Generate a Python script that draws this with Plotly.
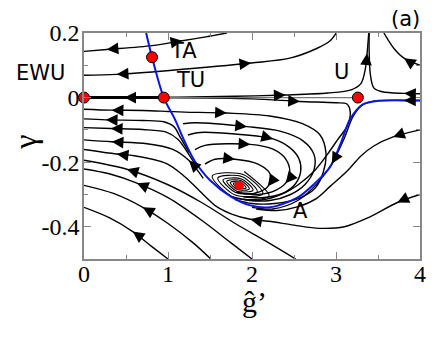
import math
import plotly.graph_objects as go

# ─── Data (ĝ', γ) ────────────────────────────────────────────────────────────

fixed_x = [0.0, 0.95, 0.81, 3.26]
fixed_y = [0.0, 0.0, 0.125, 0.0]
attractor_x = [1.845]
attractor_y = [-0.272]

blue_x = [0.74, 0.81, 0.95, 1.08, 1.20, 1.32, 1.50, 1.74, 1.98, 2.21, 2.54, 2.75, 2.93, 3.05, 3.17, 3.32, 3.50, 4.0]
blue_y = [0.2, 0.125, 0.0, -0.066, -0.137, -0.197, -0.256, -0.305, -0.334, -0.34, -0.31, -0.265, -0.215, -0.146, -0.066, -0.021, -0.010, -0.009]

top_arc = [(0, 0.143), (0.27, 0.149), (0.81, 0.161), (1.17, 0.176), (1.45, 0.188), (1.70, 0.2)]
second_arc = [(0, 0.069), (0.39, 0.072), (1.02, 0.084), (1.99, 0.107), (2.45, 0.122), (2.77, 0.152), (2.93, 0.176), (3.01, 0.203)]
axis_left = [(0, 0), (0.48, 0), (0.95, 0)]
sep_up = [(0.95, 0.0), (1.8, 0.004), (2.4, 0.008), (2.9, 0.014), (3.18, 0.024), (3.30, 0.045), (3.35, 0.09), (3.37, 0.137), (3.39, 0.2)]
sep_down = [(0.95, 0), (2.0, -0.004), (2.57, -0.012), (3.0, -0.016), (3.13, -0.02), (3.17, -0.045), (3.13, -0.09),
            (3.02, -0.13), (2.9, -0.175), (2.75, -0.225), (2.55, -0.27), (2.35, -0.3), (2.1, -0.318), (1.9, -0.315)]
mid_line = [(0.95, 0), (3.26, 0)]
right_up = [(4, 0.012), (3.81, 0.013), (3.55, 0.018), (3.45, 0.03), (3.41, 0.07), (3.395, 0.14), (3.395, 0.2)]
right_low = [(4, -0.009), (3.81, -0.009), (3.45, -0.011), (3.3, -0.025), (3.2, -0.06), (3.1, -0.125), (2.95, -0.205),
             (2.78, -0.265), (2.55, -0.318), (2.25, -0.345), (2.0, -0.34)]
top_right = [(4, 0.1), (3.81, 0.122), (3.69, 0.152), (3.57, 0.2)]
low_right1 = [(4, -0.10), (3.68, -0.122), (3.45, -0.15), (3.3, -0.18), (3.13, -0.228), (2.93, -0.275), (2.77, -0.312),
              (2.55, -0.338), (2.3, -0.35), (2.05, -0.345)]
low_right2 = [(4, -0.30), (3.73, -0.325), (3.4, -0.37), (3.1, -0.400), (2.8, -0.405), (2.5, -0.395), (2.2, -0.383),
              (1.98, -0.377), (1.75, -0.36), (1.58, -0.338), (1.38, -0.29), (1.2, -0.245), (0.99, -0.205),
              (0.6, -0.18), (0.39, -0.175), (0, -0.161)]
left_a = [(0, -0.194), (0.51, -0.222), (1.0, -0.27), (1.4, -0.325), (1.8, -0.39), (2.2, -0.45), (2.52, -0.5)]
left_b = [(0, -0.221), (0.3, -0.236), (0.63, -0.265), (1.0, -0.31), (1.4, -0.38), (1.75, -0.45), (2.0, -0.5)]
left_c = [(0, -0.272), (0.35, -0.297), (0.7, -0.34), (1.0, -0.39), (1.3, -0.45), (1.51, -0.5)]
left_d = [(0, -0.34), (0.3, -0.372), (0.58, -0.415), (0.8, -0.46), (1.0, -0.5)]
upper_1 = [(0, -0.036), (0.33, -0.039), (0.7, -0.040), (1.0, -0.043), (1.2, -0.045), (1.70, -0.048), (2.21, -0.057),
           (2.6, -0.081), (2.81, -0.116), (2.88, -0.17), (2.85, -0.23), (2.75, -0.281), (2.55, -0.313),
           (2.27, -0.328), (2.0, -0.328), (1.80, -0.316)]
upper_2 = [(0, -0.066), (0.26, -0.069), (0.7, -0.071), (0.95, -0.075), (1.07, -0.09), (1.15, -0.125), (1.25, -0.17)]
upper_3 = [(0, -0.093), (0.32, -0.096), (0.7, -0.099), (0.98, -0.107), (1.12, -0.13), (1.22, -0.165), (1.33, -0.21)]
upper_4 = [(0, -0.131), (0.33, -0.137), (0.75, -0.143), (1.05, -0.16), (1.25, -0.195), (1.42, -0.25)]
loop_2 = [(1.179, -0.081), (1.321, -0.078), (1.94, -0.090), (2.333, -0.104), (2.607, -0.134), (2.738, -0.176),
          (2.738, -0.224), (2.631, -0.269), (2.452, -0.301), (2.214, -0.319), (1.976, -0.319), (1.762, -0.307)]
loop_3 = [(1.238, -0.116), (1.381, -0.108), (1.8, -0.113), (2.25, -0.128), (2.45, -0.155), (2.56, -0.19),
          (2.58, -0.228), (2.52, -0.266), (2.369, -0.296), (2.119, -0.31), (1.893, -0.307)]
loop_4 = [(1.321, -0.161), (1.44, -0.148), (1.98, -0.145), (2.25, -0.16), (2.40, -0.19), (2.45, -0.23),
          (2.40, -0.265), (2.238, -0.292), (2.0, -0.300), (1.81, -0.293)]
loop_5 = [(1.44, -0.206), (1.56, -0.191), (1.798, -0.191), (2.071, -0.206), (2.214, -0.236), (2.19, -0.275),
          (2.036, -0.296), (1.857, -0.296)]
spiral = [(1.907, -0.229), (2.203, -0.305), (1.790, -0.310), (1.526, -0.243), (1.894, -0.238), (2.130, -0.298),
          (1.801, -0.302), (1.593, -0.249), (1.883, -0.245), (2.063, -0.292), (1.812, -0.295), (1.655, -0.255),
          (1.874, -0.252), (2.013, -0.287), (1.820, -0.290), (1.700, -0.259), (1.867, -0.257), (1.968, -0.283),
          (1.827, -0.285), (1.742, -0.263), (1.860, -0.261), (1.930, -0.280), (1.833, -0.281), (1.778, -0.266),
          (1.855, -0.265), (1.896, -0.277), (1.838, -0.277), (1.807, -0.269), (1.850, -0.268), (1.870, -0.274),
          (1.845, -0.272)]

# (line, point index, direction +1 toward next point / -1 toward previous)
arrows = [
    (top_arc, 1, -1), (top_arc, 3, 1),
    (second_arc, 1, -1), (second_arc, 3, 1),
    (axis_left, 1, -1),
    (sep_up, 2, 1), (sep_up, 7, 1),
    (sep_down, 2, 1),
    (right_up, 1, 1), (right_low, 1, 1), (right_low, 6, 1),
    (top_right, 1, 1), (low_right1, 1, 1),
    (low_right2, 1, 1), (low_right2, 7, 1), (low_right2, 14, 1),
    (left_a, 1, -1), (left_b, 2, -1), (left_c, 2, -1), (left_d, 2, -1),
    (upper_1, 1, -1), (upper_1, 5, 1),
    (upper_2, 1, -1), (upper_3, 1, -1), (upper_4, 1, -1), (upper_4, 4, -1),
    (loop_2, 2, 1), (loop_3, 3, 1), (loop_4, 2, 1), (loop_4, 6, 1),
    (loop_5, 2, 1), (loop_5, 5, 1),
]

# labels inside the axes (data coords) and outside (paper coords)
labels = ['TA', 'TU', 'U', 'A']
label_x = [1.19, 1.27, 3.07, 2.58]
label_y = [0.143, 0.054, 0.078, -0.350]
outer_labels = ['EWU', '(a)']
outer_x = [-0.128, 0.958]
outer_y = [0.825, 1.062]

X_RANGE = [0, 4]
Y_RANGE = [-0.5, 0.2]
W, H = 436, 345
# the page body adds an 8px offset, so the margins are shifted to compensate
M = dict(l=76, r=24, t=16, b=94)
SX = (W - M['l'] - M['r']) / (X_RANGE[1] - X_RANGE[0])
SY = (H - M['t'] - M['b']) / (Y_RANGE[1] - Y_RANGE[0])

fig = go.Figure()


def add_line(pts, color='black', width=1.4):
    fig.add_trace(go.Scatter(
        x=[p[0] for p in pts], y=[p[1] for p in pts], mode='lines',
        line=dict(color=color, width=width, shape='spline', smoothing=0.9),
        hoverinfo='skip', showlegend=False,
    ))


for line in [top_arc, second_arc, sep_up, sep_down, right_up, right_low, top_right,
             low_right1, low_right2, left_a, left_b, left_c, left_d,
             upper_1, upper_2, upper_3, upper_4, loop_2, loop_3, loop_4, loop_5]:
    add_line(line)
add_line(spiral, width=1.1)
add_line(mid_line, color='#777777', width=1.2)
add_line(axis_left, width=3)

fig.add_trace(go.Scatter(
    x=blue_x, y=blue_y, mode='lines',
    line=dict(color='#0a14e6', width=2, shape='spline', smoothing=0.9),
    hoverinfo='skip', showlegend=False,
))

fig.add_trace(go.Scatter(
    x=fixed_x, y=fixed_y, mode='markers', cliponaxis=False,
    marker=dict(color='#ff0000', size=11, line=dict(color='black', width=1)),
    hoverinfo='skip', showlegend=False,
))
fig.add_trace(go.Scatter(
    x=attractor_x, y=attractor_y, mode='markers',
    marker=dict(color='#ff0000', size=9),
    hoverinfo='skip', showlegend=False,
))

annotations = []
for pts, i, d in arrows:
    a = pts[max(i - 1, 0)]
    b = pts[min(i + 1, len(pts) - 1)]
    dx = (b[0] - a[0]) * SX * d
    dy = -(b[1] - a[1]) * SY * d
    n = math.hypot(dx, dy)
    annotations.append(dict(
        x=pts[i][0], y=pts[i][1], xref='x', yref='y',
        ax=-dx / n * 9, ay=-dy / n * 9, text='', showarrow=True,
        arrowhead=2, arrowsize=1.8, arrowwidth=1.3, arrowcolor='black',
    ))

label_font = dict(family='DejaVu Sans', size=21, color='black')
for t, lx, ly in zip(labels, label_x, label_y):
    annotations.append(dict(x=lx, y=ly, xref='x', yref='y', text=t,
                            showarrow=False, font=label_font))
for t, lx, ly in zip(outer_labels, outer_x, outer_y):
    annotations.append(dict(x=lx, y=ly, xref='paper', yref='paper', text=t,
                            xanchor='center', yanchor='middle',
                            showarrow=False, font=label_font))

annotations.append(dict(
    x=0.506, y=-0.19, xref='paper', yref='paper', text="ĝ’", showarrow=False,
    xanchor='center', yanchor='middle',
    font=dict(family='Liberation Serif', size=30, color='black'),
))
annotations.append(dict(
    x=-0.178, y=0.515, xref='paper', yref='paper', text='γ', showarrow=False,
    xanchor='center', yanchor='middle', textangle=-90,
    font=dict(family='Liberation Serif', size=32, color='black'),
))

axis_common = dict(
    showgrid=False, zeroline=False, showline=True, linecolor='#888888', linewidth=1.5,
    mirror='ticks', ticks='inside', ticklen=7, tickcolor='#888888', tickwidth=1,
    tickfont=dict(family='Liberation Serif', size=24, color='black'),
)

fig.update_layout(
    width=W, height=H, margin=M,
    paper_bgcolor='white', plot_bgcolor='white',
    xaxis=dict(range=X_RANGE, tickvals=[0, 1, 2, 3, 4], ticktext=['0', '1', '2', '3', '4'],
               ticklabelstandoff=-8,
               minor=dict(dtick=0.5, ticklen=4, ticks='inside', tickcolor='#888888'), **axis_common),
    yaxis=dict(range=Y_RANGE, tickvals=[0.2, 0, -0.2, -0.4], ticktext=['0.2', '0', '-0.2', '-0.4'],
               ticklabelstandoff=-2,
               minor=dict(dtick=0.1, ticklen=4, ticks='inside', tickcolor='#888888'), **axis_common),
    annotations=annotations,
)

fig.write_html("out.html")
